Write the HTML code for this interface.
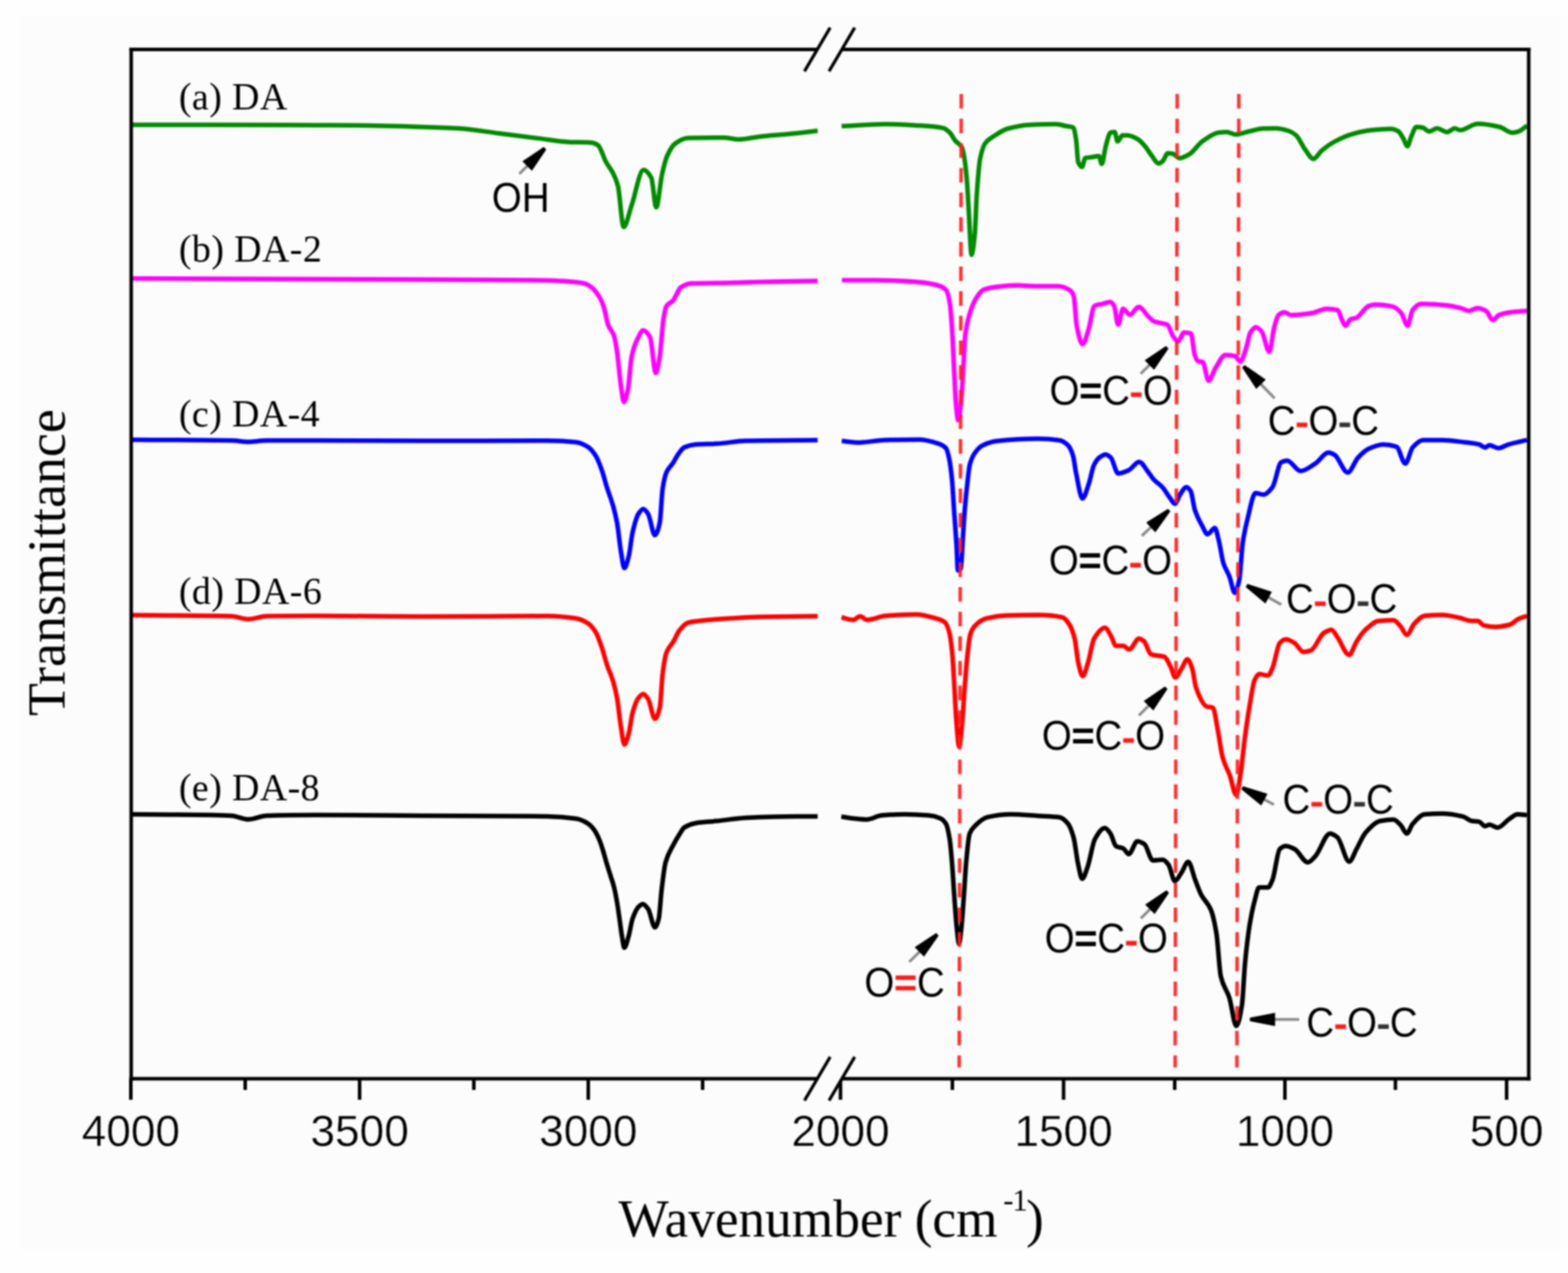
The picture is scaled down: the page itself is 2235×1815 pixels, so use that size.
<!DOCTYPE html>
<html><head><meta charset="utf-8"><title>FTIR spectra</title>
<style>html,body{margin:0;padding:0;background:#fefefe;}svg{display:block;filter:blur(0.8px);}.serif{font-family:"Liberation Serif","Times New Roman",serif;}.sans{font-family:"Liberation Sans",Arial,sans-serif;}</style></head><body>
<svg width="2235" height="1815" viewBox="0 0 2235 1815">
<rect x="0" y="0" width="2235" height="1815" fill="#fefefe"/>
<rect x="30" y="22" width="2205" height="1759" fill="#fcfcfc"/>
<path d="M187.0,178.0 C224.7,178.0 262.3,178.0 300.0,178.0 C350.0,178.0 400.0,178.3 450.0,178.5 C469.0,178.6 488.0,178.6 507.0,178.8 C538.0,179.1 569.0,180.0 600.0,181.0 C618.7,181.6 637.3,182.1 656.0,183.3 C674.7,184.5 693.3,188.0 712.0,190.3 C730.8,192.7 749.6,195.1 768.4,197.4 C782.4,199.1 796.5,201.7 810.5,202.4 C821.7,203.0 832.8,202.7 844.0,203.5 C846.9,203.7 849.7,205.2 852.6,207.2 C856.3,209.8 860.1,224.3 863.8,231.0 C867.1,236.9 870.3,240.0 873.6,246.5 C876.0,251.2 878.3,255.9 880.7,264.7 C883.5,275.0 886.2,323.7 889.0,323.7 C892.8,323.7 896.5,303.5 900.3,292.8 C905.9,276.8 911.6,242.3 917.2,242.3 C920.9,242.3 924.7,246.7 928.4,253.5 C930.7,257.7 933.1,295.6 935.4,295.6 C938.2,295.6 941.0,260.2 943.8,247.9 C946.1,237.7 948.5,227.8 950.8,222.6 C954.6,214.1 958.3,207.7 962.1,205.0 C968.3,200.5 974.4,197.0 980.6,196.8 C997.7,196.3 1014.9,196.2 1032.0,196.2 C1038.9,196.2 1045.7,198.8 1052.6,198.8 C1062.9,198.8 1073.2,195.8 1083.5,194.7 C1097.2,193.2 1110.9,192.4 1124.6,191.1 C1138.2,189.8 1151.9,188.0 1165.5,186.5" fill="none" stroke="#008a00" stroke-width="6.5" stroke-linejoin="round" stroke-linecap="butt"/>
<path d="M1199.6,179.8 C1220.5,178.9 1241.4,177.0 1262.3,177.0 C1277.9,177.0 1293.4,178.0 1309.0,178.9 C1320.9,179.6 1332.7,180.1 1344.6,182.6 C1347.7,183.3 1350.8,186.2 1353.9,189.2 C1356.4,191.6 1358.9,197.4 1361.4,200.4 C1364.5,204.2 1367.7,204.2 1370.8,209.7 C1372.0,211.9 1373.3,217.8 1374.5,224.7 C1375.8,231.7 1377.0,243.5 1378.3,258.4 C1379.2,269.4 1380.2,290.1 1381.1,305.2 C1382.3,325.2 1383.6,363.2 1384.8,363.2 C1386.4,363.2 1387.9,349.1 1389.5,333.2 C1390.4,323.8 1391.4,290.5 1392.3,277.1 C1393.9,254.6 1395.4,234.3 1397.0,226.6 C1399.5,214.4 1401.9,207.4 1404.4,204.1 C1408.2,199.0 1411.9,197.3 1415.7,194.8 C1422.5,190.2 1429.4,185.4 1436.2,183.5 C1446.8,180.6 1457.4,178.4 1468.0,177.9 C1480.5,177.4 1493.0,177.0 1505.5,177.0 C1510.3,177.0 1515.2,178.8 1520.0,179.8 C1523.3,180.5 1526.5,180.4 1529.8,181.9 C1531.2,182.6 1532.6,191.2 1534.0,200.2 C1534.9,206.2 1535.9,228.7 1536.8,231.0 C1538.7,235.6 1540.5,238.0 1542.4,238.0 C1543.8,238.0 1545.3,225.8 1546.7,225.4 C1550.0,224.4 1553.2,224.5 1556.5,224.0 C1559.8,223.5 1563.0,222.6 1566.3,222.6 C1567.7,222.6 1569.1,233.8 1570.5,233.8 C1572.4,233.8 1574.2,215.1 1576.1,208.6 C1578.4,200.5 1580.8,189.4 1583.1,188.9 C1585.0,188.5 1586.9,188.2 1588.8,188.2 C1590.2,188.2 1591.6,201.6 1593.0,201.6 C1595.3,201.6 1597.7,193.1 1600.0,193.1 C1602.3,193.1 1604.7,193.1 1607.0,193.1 C1612.1,193.1 1617.3,195.9 1622.4,198.8 C1625.7,200.6 1628.9,204.8 1632.2,208.6 C1635.5,212.5 1638.8,218.4 1642.1,222.6 C1645.1,226.4 1648.2,233.1 1651.2,233.1 C1653.3,233.1 1655.4,231.3 1657.5,229.6 C1659.8,227.7 1662.2,218.4 1664.5,218.4 C1666.8,218.4 1669.2,218.7 1671.5,219.1 C1674.8,219.6 1678.1,225.4 1681.4,225.4 C1686.1,225.4 1690.7,222.4 1695.4,219.8 C1701.5,216.4 1707.5,205.9 1713.6,201.6 C1721.6,196.0 1729.5,189.7 1737.5,188.9 C1741.2,188.5 1745.0,188.2 1748.7,188.2 C1752.9,188.2 1757.1,191.7 1761.3,191.7 C1767.4,191.7 1773.5,188.8 1779.6,187.5 C1786.6,186.0 1793.6,183.6 1800.6,183.3 C1806.5,183.1 1812.3,182.9 1818.2,182.9 C1824.3,182.9 1830.4,184.6 1836.5,186.5 C1840.1,187.6 1843.8,189.8 1847.4,192.9 C1851.7,196.5 1855.9,207.4 1860.2,213.0 C1864.2,218.2 1868.1,226.6 1872.1,226.6 C1876.0,226.6 1880.0,218.1 1883.9,214.8 C1890.0,209.7 1896.1,205.3 1902.2,202.0 C1910.7,197.4 1919.2,193.4 1927.7,191.1 C1936.8,188.6 1946.0,186.5 1955.1,185.6 C1964.2,184.7 1973.3,183.8 1982.4,183.8 C1986.1,183.8 1989.7,185.3 1993.4,187.4 C1995.8,188.8 1998.3,194.3 2000.7,198.4 C2002.5,201.4 2004.3,208.4 2006.1,208.4 C2007.9,208.4 2009.8,198.7 2011.6,194.7 C2014.0,189.5 2016.5,181.0 2018.9,181.0 C2021.9,181.0 2025.0,181.4 2028.0,182.0 C2031.0,182.6 2034.1,187.4 2037.1,187.4 C2040.8,187.4 2044.4,182.9 2048.1,182.9 C2053.0,182.9 2057.8,188.3 2062.7,188.3 C2066.3,188.3 2070.0,182.9 2073.6,182.9 C2076.0,182.9 2078.5,185.6 2080.9,185.6 C2089.4,185.6 2098.0,176.5 2106.5,176.5 C2116.8,176.5 2127.2,178.6 2137.5,181.0 C2143.6,182.4 2149.6,189.3 2155.7,189.3 C2158.7,189.3 2161.8,188.4 2164.8,187.4 C2168.7,186.2 2172.6,181.9 2176.5,179.2" fill="none" stroke="#008a00" stroke-width="6.5" stroke-linejoin="round" stroke-linecap="butt"/>
<path d="M187.0,397.0 C274.7,397.3 362.3,397.7 450.0,398.0 C500.0,398.2 550.0,398.3 600.0,398.5 C660.0,398.8 720.0,398.8 780.0,399.7 C789.2,399.8 798.5,400.5 807.7,401.1 C816.0,401.7 824.2,402.2 832.5,403.9 C836.2,404.7 839.9,407.2 843.6,410.1 C847.3,413.0 851.0,417.8 854.7,423.9 C856.5,426.9 858.4,431.1 860.2,436.4 C862.5,443.0 864.8,458.2 867.1,464.0 C869.9,471.0 872.6,471.2 875.4,479.2 C876.8,483.2 878.1,492.3 879.5,501.3 C881.3,513.4 883.2,537.3 885.0,549.7 C886.4,559.2 887.8,573.2 889.2,573.2 C891.1,573.2 892.9,564.9 894.8,556.6 C896.6,548.5 898.5,516.8 900.3,508.3 C903.1,495.5 905.8,488.9 908.6,483.4 C911.4,477.9 914.1,470.9 916.9,470.9 C920.1,470.9 923.3,474.9 926.5,480.6 C929.3,485.5 932.0,531.8 934.8,531.8 C936.7,531.8 938.5,519.4 940.4,508.3 C942.2,497.4 944.1,463.4 945.9,453.0 C947.3,445.3 948.6,438.5 950.0,436.4 C953.2,431.4 956.5,432.1 959.7,428.1 C960.8,426.7 962.0,424.0 963.1,422.0 C965.5,417.8 967.9,411.3 970.3,409.7 C975.4,406.3 980.6,404.2 985.7,404.0 C997.7,403.6 1009.7,403.7 1021.7,403.5 C1035.4,403.3 1049.2,402.8 1062.9,402.5 C1076.6,402.2 1090.4,401.8 1104.1,401.5 C1124.6,401.1 1145.0,400.8 1165.5,400.4" fill="none" stroke="#ff00ff" stroke-width="6.5" stroke-linejoin="round" stroke-linecap="butt"/>
<path d="M1200.1,399.5 C1215.9,399.5 1231.8,399.5 1247.6,399.5 C1266.8,399.5 1286.0,400.4 1305.2,401.7 C1314.8,402.3 1324.4,403.7 1334.0,406.0 C1338.8,407.2 1343.6,408.5 1348.4,413.2 C1350.3,415.1 1352.3,423.0 1354.2,434.8 C1355.2,440.7 1356.1,456.0 1357.1,470.8 C1358.1,485.6 1359.0,510.1 1360.0,528.4 C1360.9,546.0 1361.9,569.4 1362.8,578.8 C1363.8,588.5 1364.7,599.0 1365.7,599.0 C1366.9,599.0 1368.1,588.4 1369.3,578.8 C1370.5,569.2 1371.7,547.1 1372.9,528.4 C1373.9,513.4 1374.8,486.0 1375.8,478.0 C1377.7,462.1 1379.7,455.7 1381.6,449.2 C1384.9,437.9 1388.3,429.9 1391.6,424.7 C1395.0,419.5 1398.3,414.6 1401.7,413.2 C1407.9,410.6 1414.2,409.6 1420.4,408.9 C1430.0,407.8 1439.7,406.7 1449.3,406.7 C1459.5,406.7 1469.8,408.1 1480.0,408.1 C1489.4,408.1 1498.7,408.1 1508.1,408.1 C1513.7,408.1 1519.3,410.3 1524.9,413.7 C1526.8,414.8 1528.6,417.1 1530.5,422.1 C1531.9,425.9 1533.3,457.0 1534.7,464.2 C1537.5,478.5 1540.3,490.8 1543.1,490.8 C1545.9,490.8 1548.8,478.5 1551.6,469.8 C1554.4,461.2 1557.2,437.5 1560.0,436.1 C1563.7,434.3 1567.5,434.2 1571.2,433.3 C1574.9,432.4 1578.7,430.5 1582.4,430.5 C1584.3,430.5 1586.1,433.0 1588.0,436.1 C1589.9,439.2 1591.8,462.8 1593.7,462.8 C1596.0,462.8 1598.4,440.3 1600.7,440.3 C1604.0,440.3 1607.2,448.8 1610.5,448.8 C1614.7,448.8 1618.9,437.5 1623.1,437.5 C1627.8,437.5 1632.4,447.4 1637.1,451.6 C1639.9,454.1 1642.8,457.5 1645.6,458.6 C1651.7,460.9 1657.7,460.0 1663.8,462.8 C1666.6,464.1 1669.4,475.9 1672.2,479.6 C1674.5,482.7 1676.9,486.6 1679.2,486.6 C1682.0,486.6 1684.9,474.0 1687.7,474.0 C1691.0,474.0 1694.2,474.4 1697.5,475.4 C1699.4,476.0 1701.2,500.9 1703.1,506.3 C1704.5,510.3 1705.9,514.2 1707.3,514.7 C1709.6,515.6 1712.0,515.2 1714.3,516.1 C1717.1,517.1 1719.9,542.8 1722.7,542.8 C1726.0,542.8 1729.3,529.6 1732.6,524.5 C1737.3,517.3 1741.9,506.3 1746.6,506.3 C1751.3,506.3 1755.9,506.8 1760.6,507.7 C1763.1,508.2 1765.5,515.6 1768.0,515.6 C1770.7,515.6 1773.4,504.3 1776.1,496.5 C1778.1,490.7 1780.1,477.6 1782.1,474.4 C1784.8,470.1 1787.5,466.4 1790.2,466.4 C1792.9,466.4 1795.5,469.4 1798.2,472.4 C1801.9,476.6 1805.6,501.6 1809.3,501.6 C1811.6,501.6 1814.0,474.8 1816.3,466.4 C1818.3,459.2 1820.3,451.0 1822.3,449.3 C1825.0,446.9 1827.7,445.3 1830.4,445.3 C1833.8,445.3 1837.1,449.3 1840.5,449.3 C1850.5,449.3 1860.6,447.9 1870.6,446.3 C1877.3,445.3 1884.0,440.2 1890.7,440.2 C1896.1,440.2 1901.4,440.7 1906.8,442.2 C1908.8,442.8 1910.9,452.4 1912.9,456.3 C1914.6,459.5 1916.2,464.4 1917.9,464.4 C1920.2,464.4 1922.6,456.3 1924.9,455.3 C1927.6,454.2 1930.3,454.3 1933.0,453.3 C1939.0,451.1 1945.1,438.1 1951.1,436.2 C1954.4,435.2 1957.8,434.2 1961.1,434.2 C1969.2,434.2 1977.2,435.3 1985.3,437.2 C1989.3,438.1 1993.3,441.8 1997.3,446.3 C2000.3,449.7 2003.4,464.4 2006.4,464.4 C2008.7,464.4 2011.1,445.2 2013.4,442.2 C2017.4,437.1 2021.5,433.2 2025.5,433.2 C2037.6,433.2 2049.6,434.1 2061.7,435.2 C2068.4,435.8 2075.1,437.5 2081.8,439.2 C2085.8,440.2 2089.9,443.2 2093.9,443.2 C2097.9,443.2 2101.9,439.2 2105.9,439.2 C2109.9,439.2 2114.0,441.0 2118.0,443.2 C2121.4,445.0 2124.7,456.3 2128.1,456.3 C2130.8,456.3 2133.4,450.4 2136.1,449.3 C2141.5,447.1 2146.8,446.0 2152.2,445.3 C2160.3,444.2 2168.4,443.9 2176.5,443.2" fill="none" stroke="#ff00ff" stroke-width="6.5" stroke-linejoin="round" stroke-linecap="butt"/>
<path d="M187.0,627.0 C234.7,627.3 282.3,627.2 330.0,628.0 C338.0,628.1 346.0,630.0 354.0,630.0 C362.7,630.0 371.3,628.0 380.0,628.0 C403.3,628.0 426.7,628.0 450.0,628.0 C500.0,628.0 550.0,628.5 600.0,628.5 C660.0,628.5 720.0,628.3 780.0,628.3 C793.8,628.3 807.7,629.0 821.5,630.4 C827.0,631.0 832.6,633.8 838.1,637.3 C841.8,639.6 845.4,644.1 849.1,649.8 C851.9,654.1 854.6,661.5 857.4,669.1 C860.2,676.7 862.9,688.1 865.7,696.8 C868.5,705.5 871.2,711.8 874.0,721.7 C875.8,728.2 877.7,735.3 879.5,745.2 C881.4,755.3 883.2,775.7 885.1,786.6 C886.7,796.0 888.3,810.1 889.9,810.1 C892.0,810.1 894.0,801.3 896.1,793.6 C898.0,786.6 899.8,767.0 901.7,759.0 C904.5,747.2 907.2,736.8 910.0,732.7 C912.3,729.3 914.6,725.8 916.9,725.8 C919.2,725.8 921.5,729.3 923.8,732.7 C927.0,737.5 930.3,763.1 933.5,763.1 C935.8,763.1 938.1,755.5 940.4,745.2 C941.8,739.1 943.1,705.6 944.5,696.8 C946.3,685.0 948.2,677.4 950.0,673.3 C953.2,666.1 956.5,664.6 959.7,659.5 C961.5,656.6 963.3,652.6 965.1,650.0 C968.5,645.0 972.0,639.4 975.4,637.8 C980.6,635.5 985.7,634.1 990.9,633.7 C1001.2,633.0 1011.4,633.1 1021.7,632.6 C1035.4,631.9 1049.2,628.8 1062.9,628.5 C1097.1,627.8 1131.3,627.8 1165.5,627.5" fill="none" stroke="#0000ff" stroke-width="6.5" stroke-linejoin="round" stroke-linecap="butt"/>
<path d="M1199.8,628.8 C1208.2,629.5 1216.7,630.9 1225.1,630.9 C1236.8,630.9 1248.5,627.7 1260.2,627.4 C1276.6,627.0 1292.9,626.7 1309.3,626.7 C1318.6,626.7 1328.0,629.3 1337.3,632.3 C1341.1,633.5 1344.8,634.9 1348.6,639.3 C1350.0,640.9 1351.4,646.9 1352.8,653.3 C1354.2,659.7 1355.6,670.0 1357.0,684.2 C1357.9,693.6 1358.9,712.7 1359.8,726.3 C1361.0,743.3 1362.1,756.8 1363.3,775.4 C1364.0,786.6 1364.7,813.3 1365.4,813.3 C1366.8,813.3 1368.2,812.4 1369.6,810.5 C1370.5,809.2 1371.5,782.4 1372.4,768.4 C1373.3,754.4 1374.3,737.7 1375.2,726.3 C1376.6,709.2 1378.0,696.1 1379.4,684.2 C1380.3,676.2 1381.3,666.8 1382.2,663.1 C1384.5,653.9 1386.9,649.7 1389.2,646.3 C1393.0,640.8 1396.7,636.9 1400.5,635.1 C1407.5,631.7 1414.5,629.5 1421.5,628.8 C1441.0,626.7 1460.5,625.5 1480.0,625.5 C1490.0,625.5 1500.0,626.2 1510.0,627.7 C1514.0,628.3 1517.9,630.8 1521.9,634.4 C1524.4,636.7 1526.9,641.7 1529.4,649.4 C1530.9,654.0 1532.4,667.7 1533.9,674.9 C1536.9,689.2 1539.9,710.8 1542.9,710.8 C1545.9,710.8 1548.9,698.4 1551.9,689.9 C1554.4,682.8 1556.9,667.9 1559.4,662.9 C1561.9,657.9 1564.4,654.3 1566.9,652.4 C1569.9,650.2 1572.9,647.9 1575.9,647.9 C1578.4,647.9 1580.8,650.1 1583.3,652.4 C1586.8,655.6 1590.3,674.9 1593.8,674.9 C1598.8,674.9 1603.8,672.6 1608.8,670.4 C1613.8,668.2 1618.8,658.4 1623.8,658.4 C1627.8,658.4 1631.8,667.0 1635.8,671.9 C1638.8,675.6 1641.7,680.7 1644.7,683.9 C1648.7,688.2 1652.7,690.0 1656.7,694.4 C1660.2,698.2 1663.7,704.8 1667.2,709.3 C1669.7,712.5 1672.2,718.3 1674.7,718.3 C1677.2,718.3 1679.7,708.3 1682.2,704.8 C1685.2,700.5 1688.2,694.4 1691.2,694.4 C1693.2,694.4 1695.2,697.1 1697.2,700.3 C1699.2,703.5 1701.2,721.3 1703.2,727.3 C1706.7,737.8 1710.1,743.5 1713.6,749.8 C1716.1,754.3 1718.6,761.7 1721.1,761.7 C1724.6,761.7 1728.1,752.8 1731.6,752.8 C1733.6,752.8 1735.6,764.3 1737.6,772.2 C1739.6,780.1 1741.6,795.8 1743.6,802.2 C1746.6,811.8 1749.6,814.7 1752.6,822.5 C1755.1,828.9 1757.5,845.2 1760.0,845.2 C1762.1,845.2 1764.2,836.8 1766.3,827.3 C1768.1,819.3 1769.8,784.6 1771.6,772.6 C1774.0,756.1 1776.5,746.3 1778.9,736.8 C1782.4,723.0 1786.0,703.1 1789.5,703.1 C1793.3,703.1 1797.2,705.2 1801.0,705.2 C1805.2,705.2 1809.5,700.1 1813.7,694.7 C1817.9,689.3 1822.1,660.7 1826.3,658.9 C1829.1,657.7 1831.9,656.8 1834.7,656.8 C1841.0,656.8 1847.4,671.6 1853.7,671.6 C1860.7,671.6 1867.7,665.4 1874.7,661.0 C1881.0,657.0 1887.4,645.3 1893.7,645.3 C1896.5,645.3 1899.3,646.9 1902.1,648.4 C1908.4,651.8 1914.7,673.7 1921.0,673.7 C1925.9,673.7 1930.8,657.8 1935.7,652.6 C1940.6,647.3 1945.6,642.3 1950.5,640.0 C1957.5,636.8 1964.5,633.7 1971.5,633.7 C1977.8,633.7 1984.2,634.8 1990.5,636.8 C1994.7,638.1 1998.9,661.0 2003.1,661.0 C2006.6,661.0 2010.1,641.8 2013.6,637.9 C2018.5,632.4 2023.5,627.4 2028.4,627.4 C2037.5,627.4 2046.6,627.4 2055.7,627.4 C2066.2,627.4 2076.8,629.2 2087.3,630.5 C2094.3,631.3 2101.3,631.9 2108.3,633.7 C2111.1,634.4 2114.0,637.9 2116.8,637.9 C2118.9,637.9 2121.0,634.7 2123.1,634.7 C2127.3,634.7 2131.5,638.9 2135.7,638.9 C2140.6,638.9 2145.5,635.1 2150.4,633.7 C2159.1,631.2 2167.8,629.5 2176.5,627.4" fill="none" stroke="#0000ff" stroke-width="6.5" stroke-linejoin="round" stroke-linecap="butt"/>
<path d="M187.0,877.0 C224.7,877.3 262.3,877.5 300.0,878.0 C310.0,878.1 320.0,878.2 330.0,878.5 C338.0,878.8 346.0,882.7 354.0,882.7 C362.7,882.7 371.3,878.6 380.0,878.5 C403.3,878.1 426.7,878.0 450.0,878.0 C500.0,878.0 550.0,879.0 600.0,879.0 C660.0,879.0 720.0,878.3 780.0,878.3 C793.8,878.3 807.7,879.7 821.5,881.8 C827.0,882.7 832.6,885.2 838.1,888.7 C841.8,891.0 845.4,895.4 849.1,901.2 C851.9,905.6 854.6,914.0 857.4,921.9 C860.2,929.8 862.9,941.3 865.7,949.5 C868.5,957.7 871.2,962.5 874.0,971.7 C875.8,977.8 877.7,985.3 879.5,995.2 C881.4,1005.3 883.2,1025.3 885.1,1036.6 C886.7,1046.3 888.3,1061.5 889.9,1061.5 C892.0,1061.5 894.0,1053.3 896.1,1046.3 C898.0,1040.0 899.8,1022.4 901.7,1015.9 C904.5,1006.2 907.2,998.5 910.0,995.2 C912.3,992.4 914.6,989.6 916.9,989.6 C919.2,989.6 921.5,993.2 923.8,996.5 C927.0,1001.2 930.3,1024.9 933.5,1024.9 C935.8,1024.9 938.1,1018.4 940.4,1009.0 C941.8,1003.4 943.1,971.1 944.5,960.6 C946.3,946.5 948.2,934.9 950.0,930.2 C953.2,921.9 956.5,920.5 959.7,915.0 C962.5,910.2 965.4,902.6 968.2,899.1 C972.3,893.9 976.5,888.9 980.6,887.8 C987.5,885.9 994.3,885.4 1001.2,884.7 C1014.9,883.3 1028.6,882.4 1042.3,881.6 C1056.0,880.8 1069.8,879.9 1083.5,879.6 C1110.8,879.0 1138.2,878.9 1165.5,878.5" fill="none" stroke="#ff0000" stroke-width="6.5" stroke-linejoin="round" stroke-linecap="butt"/>
<path d="M1199.4,880.2 C1204.9,881.4 1210.4,883.8 1215.9,883.8 C1219.3,883.8 1222.6,878.8 1226.0,878.8 C1229.4,878.8 1232.7,883.8 1236.1,883.8 C1244.7,883.8 1253.4,878.9 1262.0,878.1 C1276.4,876.8 1290.8,875.9 1305.2,875.9 C1314.8,875.9 1324.4,878.9 1334.0,881.7 C1338.3,883.0 1342.7,883.9 1347.0,887.4 C1348.9,889.0 1350.9,893.7 1352.8,900.4 C1354.2,905.3 1355.7,915.6 1357.1,929.2 C1358.1,938.4 1359.0,956.6 1360.0,972.4 C1360.9,987.6 1361.9,1010.9 1362.8,1022.8 C1364.3,1041.5 1365.7,1064.6 1367.2,1064.6 C1368.6,1064.6 1370.1,1044.8 1371.5,1030.0 C1372.7,1017.6 1373.9,995.1 1375.1,979.6 C1376.3,964.1 1377.5,947.4 1378.7,936.4 C1380.1,923.2 1381.6,909.3 1383.0,904.7 C1384.9,898.5 1386.9,895.3 1388.8,893.2 C1394.5,887.0 1400.3,883.2 1406.0,881.7 C1415.6,879.2 1425.3,877.7 1434.9,877.4 C1449.9,877.0 1465.0,876.8 1480.0,876.8 C1491.5,876.8 1503.1,877.8 1514.6,880.2 C1518.0,880.9 1521.5,886.0 1524.9,891.5 C1527.2,895.2 1529.5,901.4 1531.8,910.5 C1533.5,917.4 1535.3,937.6 1537.0,945.0 C1539.0,953.7 1541.1,964.0 1543.1,964.0 C1545.7,964.0 1548.2,952.8 1550.8,945.0 C1553.7,936.2 1556.6,915.4 1559.5,910.5 C1564.7,901.7 1569.8,894.9 1575.0,894.9 C1577.9,894.9 1580.8,902.2 1583.7,907.0 C1586.0,910.8 1588.3,920.8 1590.6,920.8 C1594.1,920.8 1597.5,920.8 1601.0,920.8 C1603.9,920.8 1606.7,926.0 1609.6,926.0 C1614.2,926.0 1618.8,910.5 1623.4,910.5 C1625.7,910.5 1628.0,912.2 1630.3,913.9 C1633.8,916.5 1637.2,931.6 1640.7,932.9 C1647.0,935.2 1653.4,934.1 1659.7,936.4 C1662.6,937.5 1665.5,944.8 1668.4,950.2 C1670.7,954.5 1673.0,965.8 1675.3,965.8 C1678.2,965.8 1681.0,958.0 1683.9,953.7 C1686.8,949.4 1689.6,939.9 1692.5,939.9 C1694.8,939.9 1697.2,946.9 1699.5,953.7 C1701.2,958.6 1702.9,974.7 1704.6,979.6 C1709.8,994.5 1715.0,1005.6 1720.2,1007.3 C1723.1,1008.2 1725.9,1007.9 1728.8,1009.0 C1731.1,1009.9 1733.4,1028.6 1735.7,1040.1 C1738.0,1051.8 1740.4,1071.5 1742.7,1079.8 C1746.1,1092.1 1749.6,1096.2 1753.0,1105.7 C1756.0,1114.1 1759.1,1133.6 1762.1,1133.6 C1764.2,1133.6 1766.3,1115.2 1768.4,1102.0 C1770.5,1088.8 1772.6,1065.0 1774.7,1049.4 C1776.8,1033.8 1778.9,1019.5 1781.0,1007.3 C1783.5,992.9 1785.9,974.5 1788.4,969.4 C1790.5,965.0 1792.6,961.0 1794.7,961.0 C1798.9,961.0 1803.2,963.1 1807.4,963.1 C1809.5,963.1 1811.6,957.2 1813.7,952.6 C1817.2,945.0 1820.7,920.4 1824.2,916.8 C1827.0,913.9 1829.8,911.6 1832.6,911.6 C1836.8,911.6 1841.0,914.3 1845.2,916.8 C1849.4,919.3 1853.7,929.5 1857.9,929.5 C1861.4,929.5 1864.9,928.5 1868.4,927.4 C1874.7,925.4 1881.0,905.8 1887.3,902.1 C1890.8,900.0 1894.4,897.9 1897.9,897.9 C1900.7,897.9 1903.5,904.6 1906.3,908.4 C1911.9,916.0 1917.5,933.7 1923.1,933.7 C1926.6,933.7 1930.1,920.1 1933.6,914.7 C1937.8,908.2 1942.1,901.7 1946.3,897.9 C1952.6,892.2 1958.9,885.9 1965.2,885.3 C1972.2,884.6 1979.3,884.2 1986.3,884.2 C1989.8,884.2 1993.3,889.8 1996.8,893.7 C1999.6,896.8 2002.4,905.3 2005.2,905.3 C2008.7,905.3 2012.2,893.2 2015.7,889.5 C2020.6,884.3 2025.6,878.3 2030.5,877.9 C2038.9,877.1 2047.3,876.8 2055.7,876.8 C2064.1,876.8 2072.6,879.3 2081.0,881.0 C2086.6,882.1 2092.2,885.3 2097.8,885.3 C2100.6,885.3 2103.4,885.3 2106.2,885.3 C2109.0,885.3 2111.9,890.9 2114.7,891.6 C2120.3,892.9 2125.9,893.7 2131.5,893.7 C2138.5,893.7 2145.5,892.4 2152.5,890.5 C2156.0,889.6 2159.6,885.0 2163.1,883.2 C2167.6,880.9 2172.0,879.7 2176.5,877.9" fill="none" stroke="#ff0000" stroke-width="6.5" stroke-linejoin="round" stroke-linecap="butt"/>
<path d="M187.0,1161.0 C224.7,1161.3 262.3,1161.4 300.0,1162.0 C310.0,1162.2 320.0,1162.4 330.0,1163.0 C338.0,1163.5 346.0,1168.3 354.0,1168.3 C362.7,1168.3 371.3,1163.3 380.0,1163.0 C403.3,1162.3 426.7,1162.0 450.0,1162.0 C500.0,1162.0 550.0,1162.7 600.0,1163.0 C660.0,1163.3 720.0,1163.2 780.0,1163.9 C793.8,1164.1 807.7,1165.2 821.5,1167.3 C827.0,1168.1 832.6,1170.8 838.1,1174.2 C840.9,1175.9 843.6,1178.9 846.4,1182.5 C848.7,1185.5 851.0,1189.9 853.3,1195.0 C855.1,1199.0 857.0,1204.5 858.8,1210.2 C860.6,1215.9 862.5,1223.3 864.3,1229.5 C866.2,1235.8 868.0,1241.4 869.9,1247.5 C871.7,1253.4 873.6,1258.1 875.4,1265.5 C876.8,1271.0 878.1,1278.3 879.5,1286.2 C880.7,1292.9 881.8,1301.6 883.0,1309.7 C884.2,1317.8 885.3,1327.9 886.5,1334.6 C887.6,1341.2 888.8,1351.2 889.9,1351.2 C892.0,1351.2 894.0,1341.5 896.1,1334.6 C898.0,1328.3 899.8,1315.0 901.7,1309.7 C904.5,1301.9 907.2,1295.8 910.0,1293.1 C912.1,1291.1 914.1,1289.0 916.2,1289.0 C918.7,1289.0 921.3,1292.5 923.8,1295.9 C927.0,1300.2 930.3,1322.2 933.5,1322.2 C935.3,1322.2 937.2,1316.7 939.0,1309.7 C940.4,1304.5 941.7,1279.6 943.1,1268.3 C945.0,1252.8 946.8,1236.2 948.7,1229.5 C952.4,1216.3 956.0,1211.8 959.7,1204.7 C962.5,1199.2 965.4,1194.4 968.2,1190.0 C970.6,1186.3 973.0,1181.4 975.4,1179.8 C980.6,1176.4 985.7,1174.6 990.9,1173.7 C1001.2,1171.9 1011.4,1171.7 1021.7,1170.6 C1035.4,1169.1 1049.2,1166.8 1062.9,1166.0 C1076.6,1165.2 1090.4,1164.6 1104.1,1164.4 C1124.6,1164.1 1145.0,1164.1 1165.5,1163.9" fill="none" stroke="#000000" stroke-width="6.5" stroke-linejoin="round" stroke-linecap="butt"/>
<path d="M1199.2,1164.2 C1204.5,1165.0 1209.8,1166.1 1215.1,1166.7 C1221.8,1167.4 1228.4,1168.4 1235.1,1168.4 C1242.3,1168.4 1249.6,1163.2 1256.8,1162.6 C1267.9,1161.6 1279.1,1160.9 1290.2,1160.9 C1301.3,1160.9 1312.5,1161.6 1323.6,1162.6 C1329.2,1163.1 1334.7,1164.3 1340.3,1166.7 C1343.1,1167.9 1345.9,1170.3 1348.7,1175.1 C1350.4,1178.0 1352.0,1186.4 1353.7,1196.8 C1354.8,1203.7 1355.9,1217.0 1357.0,1230.2 C1358.1,1243.8 1359.3,1264.9 1360.4,1280.3 C1361.5,1295.3 1362.6,1312.1 1363.7,1322.1 C1364.8,1332.1 1365.9,1345.5 1367.0,1345.5 C1368.1,1345.5 1369.3,1332.2 1370.4,1322.1 C1371.5,1312.3 1372.6,1295.3 1373.7,1280.3 C1374.8,1264.9 1376.0,1242.5 1377.1,1230.2 C1378.8,1212.1 1380.4,1192.8 1382.1,1188.5 C1384.9,1181.4 1387.6,1179.5 1390.4,1176.8 C1396.0,1171.4 1401.5,1166.4 1407.1,1165.1 C1418.2,1162.5 1429.4,1160.9 1440.5,1160.9 C1453.7,1160.9 1466.8,1162.5 1480.0,1163.3 C1490.1,1163.9 1500.1,1163.9 1510.2,1165.3 C1514.2,1165.9 1518.3,1169.6 1522.3,1174.4 C1525.0,1177.6 1527.7,1184.9 1530.4,1194.5 C1532.4,1201.8 1534.5,1221.5 1536.5,1230.8 C1538.5,1239.9 1540.5,1253.0 1542.5,1253.0 C1545.2,1253.0 1547.9,1242.4 1550.6,1234.8 C1553.9,1225.4 1557.3,1202.5 1560.6,1196.5 C1565.3,1187.9 1570.1,1180.4 1574.8,1180.4 C1577.5,1180.4 1580.1,1184.8 1582.8,1188.5 C1585.5,1192.3 1588.2,1205.1 1590.9,1206.6 C1594.3,1208.4 1597.6,1208.0 1601.0,1209.6 C1603.7,1210.9 1606.3,1217.7 1609.0,1217.7 C1613.0,1217.7 1617.1,1199.6 1621.1,1199.6 C1624.5,1199.6 1627.8,1201.4 1631.2,1203.6 C1635.2,1206.2 1639.3,1226.8 1643.3,1226.8 C1648.0,1226.8 1652.7,1225.8 1657.4,1225.8 C1660.1,1225.8 1662.8,1229.3 1665.5,1232.8 C1668.5,1236.7 1671.6,1256.0 1674.6,1256.0 C1677.6,1256.0 1680.6,1249.1 1683.6,1244.9 C1687.0,1240.2 1690.3,1228.8 1693.7,1228.8 C1697.1,1228.8 1700.4,1246.4 1703.8,1255.0 C1706.5,1261.9 1709.2,1269.9 1711.9,1275.2 C1716.6,1284.4 1721.3,1286.0 1726.0,1297.3 C1728.7,1303.7 1731.3,1315.3 1734.0,1331.6 C1736.0,1344.0 1738.1,1383.4 1740.1,1392.1 C1744.1,1409.3 1748.2,1409.8 1752.2,1422.3 C1755.6,1432.7 1758.9,1462.7 1762.3,1462.7 C1765.0,1462.7 1767.6,1449.1 1770.3,1432.4 C1771.8,1423.2 1773.2,1388.0 1774.7,1372.6 C1776.8,1350.6 1778.9,1333.0 1781.0,1320.0 C1783.5,1304.8 1785.9,1293.3 1788.4,1284.2 C1790.5,1276.4 1792.6,1265.2 1794.7,1265.2 C1798.9,1265.2 1803.2,1265.2 1807.4,1265.2 C1809.5,1265.2 1811.6,1259.5 1813.7,1254.7 C1817.2,1246.6 1820.7,1213.5 1824.2,1210.5 C1827.0,1208.1 1829.8,1206.3 1832.6,1206.3 C1836.8,1206.3 1841.0,1208.5 1845.2,1210.5 C1851.5,1213.6 1857.9,1229.5 1864.2,1229.5 C1867.7,1229.5 1871.2,1224.6 1874.7,1221.0 C1881.7,1213.8 1888.8,1188.4 1895.8,1188.4 C1899.3,1188.4 1902.8,1191.0 1906.3,1193.7 C1911.9,1198.0 1917.5,1228.4 1923.1,1228.4 C1926.6,1228.4 1930.1,1216.7 1933.6,1210.5 C1937.8,1203.1 1942.1,1192.3 1946.3,1187.4 C1953.3,1179.3 1960.3,1171.8 1967.3,1170.5 C1973.6,1169.3 1980.0,1168.4 1986.3,1168.4 C1989.8,1168.4 1993.3,1173.2 1996.8,1176.8 C1999.6,1179.7 2002.4,1188.4 2005.2,1188.4 C2008.0,1188.4 2010.8,1177.9 2013.6,1174.7 C2019.2,1168.4 2024.9,1161.5 2030.5,1161.0 C2038.9,1160.3 2047.3,1160.0 2055.7,1160.0 C2065.5,1160.0 2075.4,1161.8 2085.2,1164.2 C2089.4,1165.2 2093.6,1169.8 2097.8,1170.5 C2101.3,1171.1 2104.8,1170.9 2108.3,1171.6 C2111.1,1172.1 2114.0,1177.9 2116.8,1177.9 C2118.9,1177.9 2121.0,1175.8 2123.1,1175.8 C2127.0,1175.8 2130.8,1180.0 2134.7,1180.0 C2139.9,1180.0 2145.2,1171.8 2150.4,1168.4 C2154.6,1165.7 2158.9,1161.0 2163.1,1161.0 C2167.6,1161.0 2172.0,1161.7 2176.5,1162.1" fill="none" stroke="#000000" stroke-width="6.5" stroke-linejoin="round" stroke-linecap="butt"/>
<line x1="1370.2" y1="134" x2="1367.2" y2="1522" stroke="#ff2020" stroke-opacity="0.92" stroke-width="5" stroke-dasharray="20.8 14.35"/>
<line x1="1678" y1="134" x2="1675" y2="1522" stroke="#ff2020" stroke-opacity="0.92" stroke-width="5" stroke-dasharray="20.8 14.35"/>
<line x1="1765.8" y1="134" x2="1763" y2="1522" stroke="#ff2020" stroke-opacity="0.92" stroke-width="5" stroke-dasharray="20.8 14.35"/>
<g stroke="#000" stroke-width="5" fill="none" stroke-linecap="square">
<line x1="187" y1="70.5" x2="187" y2="1538"/>
<line x1="2179" y1="70.5" x2="2179" y2="1538"/>
<line x1="187" y1="70.5" x2="2179" y2="70.5"/>
<line x1="187" y1="1538" x2="2179" y2="1538"/>
</g>
<g stroke="#000" stroke-width="5">
<line x1="186.5" y1="1538" x2="186.5" y2="1568"/>
<line x1="512.6" y1="1538" x2="512.6" y2="1568"/>
<line x1="838.5" y1="1538" x2="838.5" y2="1568"/>
<line x1="1198" y1="1538" x2="1198" y2="1568"/>
<line x1="1516" y1="1538" x2="1516" y2="1568"/>
<line x1="1831.5" y1="1538" x2="1831.5" y2="1568"/>
<line x1="2147.5" y1="1538" x2="2147.5" y2="1568"/>
<line x1="349.5" y1="1538" x2="349.5" y2="1554"/>
<line x1="675.4" y1="1538" x2="675.4" y2="1554"/>
<line x1="1001.5" y1="1538" x2="1001.5" y2="1554"/>
<line x1="1357.5" y1="1538" x2="1357.5" y2="1554"/>
<line x1="1674.4" y1="1538" x2="1674.4" y2="1554"/>
<line x1="1989" y1="1538" x2="1989" y2="1554"/>
</g>
<polygon points="1161.34,77.24 1168.66,63.76 1203.66,63.76 1196.34,77.24" fill="#fcfcfc"/>
<line x1="1146.7" y1="101.7" x2="1183.3" y2="39.3" stroke="#000" stroke-width="4.5"/>
<line x1="1181.7" y1="101.7" x2="1218.3" y2="39.3" stroke="#000" stroke-width="4.5"/>
<polygon points="1161.34,1544.74 1168.66,1531.26 1203.66,1531.26 1196.34,1544.74" fill="#fcfcfc"/>
<line x1="1146.7" y1="1569.2" x2="1183.3" y2="1506.8" stroke="#000" stroke-width="4.5"/>
<line x1="1181.7" y1="1569.2" x2="1218.3" y2="1506.8" stroke="#000" stroke-width="4.5"/>
<g class="sans" font-size="63" fill="#000" text-anchor="middle" stroke="#fcfcfc" stroke-width="0.5">
<text x="186.5" y="1634">4000</text>
<text x="512.6" y="1634">3500</text>
<text x="838.5" y="1634">3000</text>
<text x="1198" y="1634">2000</text>
<text x="1516" y="1634">1500</text>
<text x="1831.5" y="1634">1000</text>
<text x="2147.5" y="1634">500</text>
</g>
<g class="serif" font-size="54" fill="#000" letter-spacing="0.6">
<text x="255" y="155.5">(a) DA</text>
<text x="255" y="373.3">(b) DA-2</text>
<text x="255" y="608">(c) DA-4</text>
<text x="255" y="861">(d) DA-6</text>
<text x="255" y="1141">(e) DA-8</text>
</g>
<g class="sans" font-size="55">
<g transform="translate(701,302) scale(1,1.07)"><text x="0" y="0"><tspan fill="#000">O</tspan><tspan fill="#000">H</tspan></text></g>
<g transform="translate(1496,576.5) scale(1,1.07)"><text x="0" y="0"><tspan fill="#000">O</tspan><tspan fill="#000" stroke="#000" stroke-width="1.8">=</tspan><tspan fill="#000">C</tspan><tspan fill="#ff1a1a" stroke="#ff1a1a" stroke-width="1.8" dy="1.8">-</tspan><tspan fill="#000" dy="-1.8">O</tspan></text></g>
<g transform="translate(1807,619.5) scale(1,1.07)"><text x="0" y="0"><tspan fill="#000">C</tspan><tspan fill="#ff1a1a" stroke="#ff1a1a" stroke-width="1.8" dy="1.8">-</tspan><tspan fill="#000" dy="-1.8">O</tspan><tspan fill="#333" stroke="#333" stroke-width="1.8" dy="1.8">-</tspan><tspan fill="#000" dy="-1.8">C</tspan></text></g>
<g transform="translate(1495,819) scale(1,1.07)"><text x="0" y="0"><tspan fill="#000">O</tspan><tspan fill="#000" stroke="#000" stroke-width="1.8">=</tspan><tspan fill="#000">C</tspan><tspan fill="#ff1a1a" stroke="#ff1a1a" stroke-width="1.8" dy="1.8">-</tspan><tspan fill="#000" dy="-1.8">O</tspan></text></g>
<g transform="translate(1833,874) scale(1,1.07)"><text x="0" y="0"><tspan fill="#000">C</tspan><tspan fill="#ff1a1a" stroke="#ff1a1a" stroke-width="1.8" dy="1.8">-</tspan><tspan fill="#000" dy="-1.8">O</tspan><tspan fill="#333" stroke="#333" stroke-width="1.8" dy="1.8">-</tspan><tspan fill="#000" dy="-1.8">C</tspan></text></g>
<g transform="translate(1485,1069) scale(1,1.07)"><text x="0" y="0"><tspan fill="#000">O</tspan><tspan fill="#000" stroke="#000" stroke-width="1.8">=</tspan><tspan fill="#000">C</tspan><tspan fill="#ff1a1a" stroke="#ff1a1a" stroke-width="1.8" dy="1.8">-</tspan><tspan fill="#000" dy="-1.8">O</tspan></text></g>
<g transform="translate(1828,1160) scale(1,1.07)"><text x="0" y="0"><tspan fill="#000">C</tspan><tspan fill="#ff1a1a" stroke="#ff1a1a" stroke-width="1.8" dy="1.8">-</tspan><tspan fill="#000" dy="-1.8">O</tspan><tspan fill="#333" stroke="#333" stroke-width="1.8" dy="1.8">-</tspan><tspan fill="#000" dy="-1.8">C</tspan></text></g>
<g transform="translate(1232,1420.5) scale(1,1.07)"><text x="0" y="0"><tspan fill="#000">O</tspan><tspan fill="#ff1a1a" stroke="#ff1a1a" stroke-width="1.8">=</tspan><tspan fill="#000">C</tspan></text></g>
<g transform="translate(1489,1358) scale(1,1.07)"><text x="0" y="0"><tspan fill="#000">O</tspan><tspan fill="#000" stroke="#000" stroke-width="1.8">=</tspan><tspan fill="#000">C</tspan><tspan fill="#ff1a1a" stroke="#ff1a1a" stroke-width="1.8" dy="1.8">-</tspan><tspan fill="#000" dy="-1.8">O</tspan></text></g>
<g transform="translate(1862,1477.5) scale(1,1.07)"><text x="0" y="0"><tspan fill="#000">C</tspan><tspan fill="#ff1a1a" stroke="#ff1a1a" stroke-width="1.8" dy="1.8">-</tspan><tspan fill="#000" dy="-1.8">O</tspan><tspan fill="#333" stroke="#333" stroke-width="1.8" dy="1.8">-</tspan><tspan fill="#000" dy="-1.8">C</tspan></text></g>
</g>
<line x1="740.3" y1="247.9" x2="752.8" y2="235.4" stroke="#8a8a8a" stroke-width="4"/><polygon points="778.6,213.2 775.0,209.6 744.6,230.1 758.1,243.6" fill="#000"/>
<line x1="1625.9" y1="532.9" x2="1639.7" y2="519.1" stroke="#8a8a8a" stroke-width="4"/><polygon points="1665.6,496.9 1662.0,493.3 1631.6,513.8 1645.0,527.2" fill="#000"/>
<line x1="1816.8" y1="567.8" x2="1796.0" y2="546.5" stroke="#8a8a8a" stroke-width="4"/><polygon points="1774.1,520.5 1770.5,523.9 1790.6,554.6 1804.2,541.3" fill="#000"/>
<line x1="1627.5" y1="764.0" x2="1641.7" y2="750.6" stroke="#8a8a8a" stroke-width="4"/><polygon points="1668.2,729.1 1664.8,725.5 1633.8,745.1 1646.8,758.9" fill="#000"/>
<line x1="1826.3" y1="862.0" x2="1806.6" y2="851.1" stroke="#8a8a8a" stroke-width="4"/><polygon points="1778.0,832.5 1775.6,836.9 1803.7,860.4 1812.9,843.8" fill="#000"/>
<line x1="1623.4" y1="1020.2" x2="1638.5" y2="1004.8" stroke="#8a8a8a" stroke-width="4"/><polygon points="1664.1,982.2 1660.5,978.8 1630.3,999.6 1643.9,1012.9" fill="#000"/>
<line x1="1815.8" y1="1147.3" x2="1800.5" y2="1139.1" stroke="#8a8a8a" stroke-width="4"/><polygon points="1771.7,1120.9 1769.3,1125.3 1797.8,1148.4 1806.7,1131.7" fill="#000"/>
<line x1="1296.1" y1="1371.4" x2="1311.9" y2="1355.9" stroke="#8a8a8a" stroke-width="4"/><polygon points="1337.9,1333.9 1334.5,1330.3 1303.8,1350.5 1317.1,1364.1" fill="#000"/>
<line x1="1626.2" y1="1309.4" x2="1640.5" y2="1295.1" stroke="#8a8a8a" stroke-width="4"/><polygon points="1666.3,1272.9 1662.7,1269.3 1632.3,1289.8 1645.8,1303.3" fill="#000"/>
<line x1="1852.0" y1="1453.5" x2="1815.5" y2="1453.5" stroke="#8a8a8a" stroke-width="4"/><polygon points="1781.5,1451.0 1781.5,1456.0 1817.5,1463.0 1817.5,1444.0" fill="#000"/>
<text class="serif" font-size="76" x="881.5" y="1762.5" fill="#000">Wavenumber (cm<tspan font-size="44" dx="8" dy="-37" letter-spacing="-1.5">-1</tspan><tspan dx="-1" dy="37">)</tspan></text>
<text class="serif" font-size="77" fill="#000" transform="translate(92,1021) rotate(-90)" x="0" y="0">Transmittance</text>
</svg></body></html>
